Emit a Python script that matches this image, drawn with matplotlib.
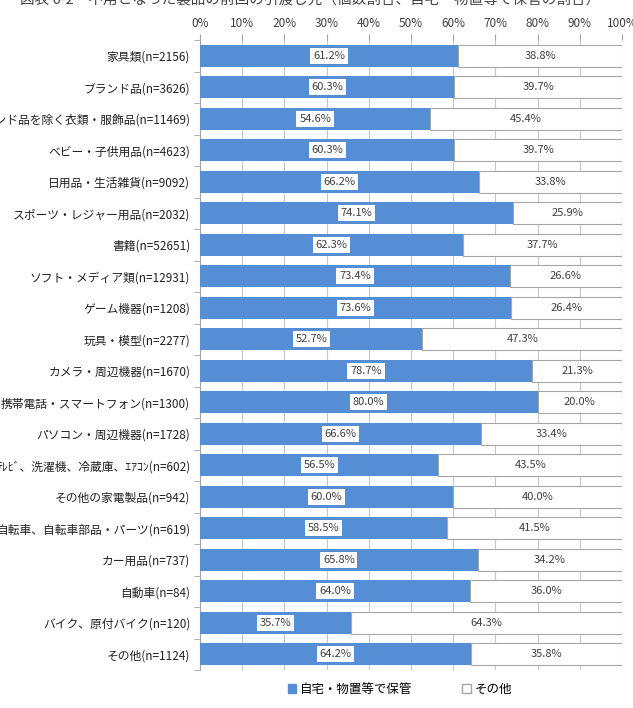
import numpy as np
import matplotlib
matplotlib.use("Agg")
import matplotlib.pyplot as plt
from matplotlib.patches import Patch

plt.rcParams['font.family'] = ['Noto Sans CJK JP', 'DejaVu Sans']

# data
categories = [
    "家具類(n=2156)", "ブランド品(n=3626)", "ブランド品を除く衣類・服飾品(n=11469)",
    "ベビー・子供用品(n=4623)", "日用品・生活雑貨(n=9092)", "スポーツ・レジャー用品(n=2032)",
    "書籍(n=52651)", "ソフト・メディア類(n=12931)", "ゲーム機器(n=1208)",
    "玩具・模型(n=2277)", "カメラ・周辺機器(n=1670)", "携帯電話・スマートフォン(n=1300)",
    "パソコン・周辺機器(n=1728)", "ﾃﾚﾋﾞ、洗濯機、冷蔵庫、ｴｱｺﾝ(n=602)", "その他の家電製品(n=942)",
    "自転車、自転車部品・パーツ(n=619)", "カー用品(n=737)", "自動車(n=84)",
    "バイク、原付バイク(n=120)", "その他(n=1124)",
]
stored = [61.2, 60.3, 54.6, 60.3, 66.2, 74.1, 62.3, 73.4, 73.6, 52.7,
          78.7, 80.0, 66.6, 56.5, 60.0, 58.5, 65.8, 64.0, 35.7, 64.2]
other = [38.8, 39.7, 45.4, 39.7, 33.8, 25.9, 37.7, 26.6, 26.4, 47.3,
         21.3, 20.0, 33.4, 43.5, 40.0, 41.5, 34.2, 36.0, 64.3, 35.8]
series_names = ["自宅・物置等で保管", "その他"]
title = "図表 6-2　不用となった製品の前回の引渡し先（個数割合、自宅・物置等で保管の割合）"

blue = "#558ED5"
edge = "#A6A6A6"

fig = plt.figure(figsize=(6.33, 7.08), dpi=100)
ax = fig.add_axes([200 / 633, 38 / 708, 422 / 633, 630 / 708])

y = np.arange(len(categories))
ax.barh(y, stored, height=0.7, color=blue, zorder=3)
ax.barh(y, other, left=stored, height=0.7, color="white", edgecolor=edge,
        linewidth=0.8, zorder=3)

for i in range(len(categories)):
    ax.text(stored[i] / 2, y[i], f"{stored[i]:.1f}%", ha="center", va="center",
            fontsize=8, color="#404040", zorder=4,
            bbox=dict(boxstyle="square,pad=0.25", fc="white", ec="none"))
    ax.text(stored[i] + other[i] / 2, y[i], f"{other[i]:.1f}%", ha="center",
            va="center", fontsize=8, color="#404040", zorder=4)

ax.set_xlim(0, 100)
ax.set_ylim(len(categories) - 0.5, -0.5)
ax.set_xticks(np.arange(0, 101, 10))
ax.set_xticklabels([f"{v}%" for v in range(0, 101, 10)])
ax.xaxis.tick_top()
ax.tick_params(axis="x", length=4, color=edge, labelsize=8.5, labelcolor="#404040", pad=3)
ax.set_yticks(y)
ax.set_yticklabels(categories, fontsize=8.5, color="#222222")
ax.set_yticks(np.arange(-0.5, len(categories), 1), minor=True)
ax.tick_params(axis="y", which="major", length=0, pad=7)
ax.tick_params(axis="y", which="minor", length=4, color=edge)
ax.grid(axis="x", color="#C8C8C8", linewidth=0.8, zorder=0)
for s in ["top", "right", "bottom"]:
    ax.spines[s].set_visible(False)
ax.spines["left"].set_color(edge)

handles = [Patch(facecolor=blue, edgecolor=blue), Patch(facecolor="white", edgecolor=edge)]
fig.legend(handles, series_names, loc="center", bbox_to_anchor=(400 / 633, 1 - 689 / 708),
           ncol=2, frameon=False, fontsize=9, handlelength=0.7, handleheight=0.7,
           handletextpad=0.3, columnspacing=4)

fig.text(0.49, 1.0, title, ha="center", va="center", fontsize=10.5, color="#444444")

fig.savefig("out.png", dpi=100)
